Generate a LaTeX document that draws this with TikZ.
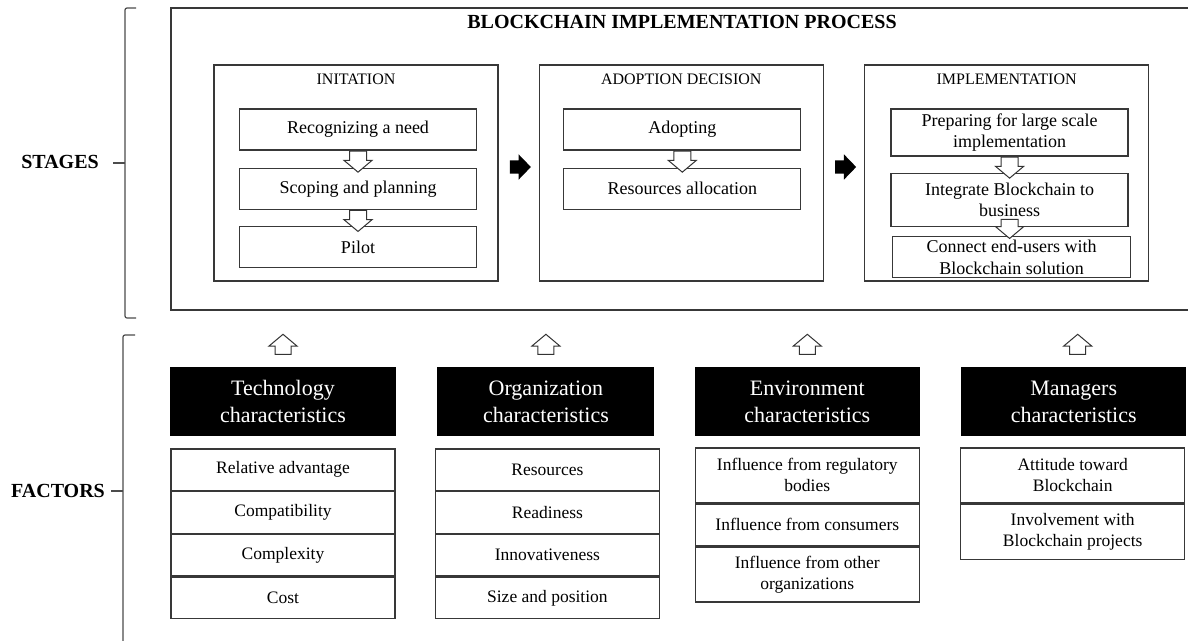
\documentclass[tikz,border=0pt]{standalone}
\usepackage{fontspec}
\setmainfont{Liberation Serif}
\usetikzlibrary{positioning,shapes.arrows,calc}
\tikzstyle{pline}=[-, line width=1.3pt, draw=black!78]
\tikzstyle{bline}=[-, line width=1.2pt, draw=black!70, rounded corners=2pt]
\tikzstyle{sidelbl}=[inner sep=0pt, font=\bfseries\fontsize{20}{24}\selectfont]
\tikzstyle{ttl}=[inner sep=0pt, font=\bfseries\fontsize{20}{24}\selectfont]
\tikzstyle{stbox}=[rectangle, pline, minimum width=284pt, minimum height=216pt, inner sep=0pt]
\tikzstyle{stlbl}=[inner sep=0pt, font=\fontsize{16}{19}\selectfont]
\tikzstyle{sbox}=[rectangle, pline, minimum width=237pt, minimum height=41pt,
                  inner sep=2pt, align=center, font=\fontsize{18}{21.5}\selectfont]
\tikzstyle{hbox}=[rectangle, fill=black, text=white, minimum width=225pt,
                  minimum height=69pt, inner sep=2pt, align=center,
                  font=\fontsize{22}{27}\selectfont]
\tikzstyle{fbox}=[rectangle, pline, minimum width=224pt, minimum height=41.5pt,
                  inner sep=2pt, align=center, font=\fontsize{17.5}{21}\selectfont]
\tikzstyle{darrow}=[single arrow, draw=black!80, line width=1pt, fill=white,
                    inner xsep=0pt, inner ysep=8pt, single arrow head extend=5.5pt,
                    single arrow tip angle=100, minimum height=21pt, rotate=-90, anchor=tail]
\tikzstyle{uarrow}=[darrow, inner ysep=7.5pt, single arrow head extend=6pt,
                    minimum height=20pt, rotate=180]
\tikzstyle{barrow}=[single arrow, fill=black, inner xsep=0pt, inner ysep=6.5pt,
                    single arrow head extend=6pt, single arrow tip angle=92,
                    minimum height=21pt, anchor=tail]

\begin{document}
\begin{tikzpicture}[x=1pt,y=-1pt]
\useasboundingbox (0,0) rectangle (1188,640);

\node (STAGES) [sidelbl] at (60,162) {STAGES};
 \draw[bline] (136,8) -- (125,8) -- (125,318) -- (136,318);
 \draw[bline] (113,163) -- (125,163);

\draw[pline] (1188,8) -| (171,310) -- (1188,310);
\node (TITLE) [ttl] at (682,22) {BLOCKCHAIN IMPLEMENTATION PROCESS};

\node (INIT) [stbox] at (356,173) {};
\node (ADOPT) [stbox, right=40pt of INIT] {};
\node (IMPL) [stbox, right=40pt of ADOPT] {};
\node (INITLBL) [stlbl] at ([yshift=-15pt]INIT.north) {INITATION};
\node (ADOPTLBL) [stlbl] at ([yshift=-15pt]ADOPT.north) {ADOPTION DECISION};
\node (IMPLLBL) [stlbl] at ([yshift=-15pt]IMPL.north) {IMPLEMENTATION};

\node (RECNEED) [sbox, below=44pt of INIT.north, xshift=2pt] {Recognizing a need};
\node (SCOPE) [sbox, below=17pt of RECNEED] {Scoping and planning};
\node (PILOT) [sbox, below=16pt of SCOPE] {Pilot};
 \node (A1) [darrow] at (RECNEED.south) {};
 \node (A2) [darrow] at (SCOPE.south) {};

\node (ADOPTING) [sbox, below=44pt of ADOPT.north, xshift=1pt] {Adopting};
\node (RESALLOC) [sbox, below=17pt of ADOPTING] {Resources allocation};
 \node (A3) [darrow] at (ADOPTING.south) {};

\node (PREP) [sbox, minimum height=47pt, below=44pt of IMPL.north, xshift=3pt]
 {Preparing for large scale\\implementation};
\node (INTBC) [sbox, minimum height=53pt, below=16pt of PREP]
 {Integrate Blockchain to\\business};
\node (CONNECT) [sbox, minimum width=238pt, below=9pt of INTBC, xshift=2pt]
 {Connect end-users with\\Blockchain solution};
 \node (A4) [darrow] at (PREP.south) {};
 \node (A5) [darrow, minimum height=19pt] at ([yshift=8pt]INTBC.south) {};

\node (B1) [barrow] at ([xshift=11pt,yshift=6pt]INIT.east) {};
\node (B2) [barrow] at ([xshift=11pt,yshift=6pt]ADOPT.east) {};

\node (FACTORS) [sidelbl] at (58,491) {FACTORS};
 \draw[bline] (135,335) -- (123,335) -- (123,650);
 \draw[bline] (111,491) -- (123,491);

\node (TECHH) [hbox, minimum width=226pt] at (283,401.5) {Technology\\characteristics};
\node (ORGH) [hbox, minimum width=217pt, right=41pt of TECHH] {Organization\\characteristics};
\node (ENVH) [hbox, right=40pt of ORGH] {Environment\\characteristics};
\node (MGRH) [hbox, right=41pt of ENVH] {Managers\\characteristics};
 \node (U1) [uarrow] at ([yshift=12pt]TECHH.north) {};
 \node (U2) [uarrow] at ([yshift=12pt]ORGH.north) {};
 \node (U3) [uarrow] at ([yshift=12pt]ENVH.north) {};
 \node (U4) [uarrow] at ([xshift=4pt,yshift=12pt]MGRH.north) {};

\node (TECH1) [fbox, below=12pt of TECHH] {Relative advantage};
\node (TECH2) [fbox, below=0pt of TECH1] {Compatibility};
\node (TECH3) [fbox, below=0pt of TECH2] {Complexity};
\node (TECH4) [fbox, below=0pt of TECH3] {Cost};

\node (ORG1) [fbox, below=12pt of ORGH, xshift=1.5pt] {Resources};
\node (ORG2) [fbox, below=0pt of ORG1] {Readiness};
\node (ORG3) [fbox, below=0pt of ORG2] {Innovativeness};
\node (ORG4) [fbox, below=0pt of ORG3] {Size and position};

\node (ENV1) [fbox, minimum height=55pt, below=11pt of ENVH] {Influence from regulatory\\bodies};
\node (ENV2) [fbox, below=0pt of ENV1] {Influence from consumers};
\node (ENV3) [fbox, minimum height=55pt, below=0pt of ENV2] {Influence from other\\organizations};

\node (MGR1) [fbox, minimum height=55pt, below=11pt of MGRH, xshift=-1pt] {Attitude toward\\Blockchain};
\node (MGR2) [fbox, minimum height=55pt, below=0pt of MGR1] {Involvement with\\Blockchain projects};

\end{tikzpicture}
\end{document}
